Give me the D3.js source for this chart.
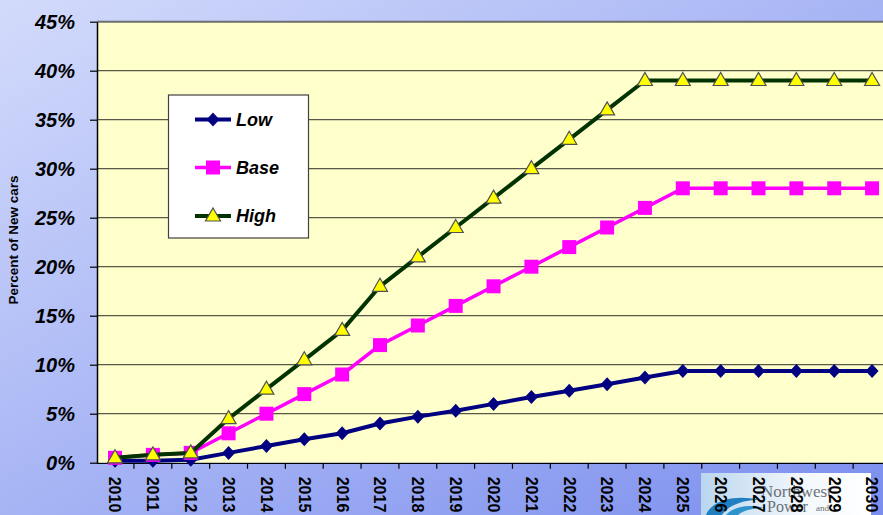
<!DOCTYPE html>
<html>
<head>
<meta charset="utf-8">
<script src="https://cdn.jsdelivr.net/npm/d3@7"></script>
<style>
  html, body { margin: 0; padding: 0; overflow: hidden; }
  svg { display: block; font-family: Arial, "Liberation Sans", sans-serif; }
</style>
</head>
<body>
<svg id="chart" width="883" height="515"></svg>
<script>
const years = ["2010","2011","2012","2013","2014","2015","2016","2017","2018","2019","2020",
               "2021","2022","2023","2024","2025","2026","2027","2028","2029","2030"];
const lowValues  = [0.2, 0.2, 0.3, 1.0, 1.7, 2.4, 3.0, 4.0, 4.7, 5.3, 6.0, 6.7, 7.35, 8.0, 8.7, 9.35, 9.35, 9.35, 9.35, 9.35, 9.35];
const baseValues = [0.5, 0.8, 1.0, 3.0, 5.0, 7.0, 9.0, 12.0, 14.0, 16.0, 18.0, 20.0, 22.0, 24.0, 26.0, 28.0, 28.0, 28.0, 28.0, 28.0, 28.0];
const highValues = [0.5, 0.8, 1.0, 4.5, 7.5, 10.5, 13.5, 18.0, 21.0, 24.0, 27.0, 30.0, 33.0, 36.0, 39.0, 39.0, 39.0, 39.0, 39.0, 39.0, 39.0];
const yTicks = [0, 5, 10, 15, 20, 25, 30, 35, 40, 45];
const seriesNames = ["Low", "Base", "High"];

const width = 883;
const height = 515;
const plot = { left: 97, right: 891, top: 21.7, bottom: 462.7 };

const svg = d3.select("#chart");
const defs = svg.append("defs");

const bg = defs.append("linearGradient")
  .attr("id", "bgGrad")
  .attr("x1", "0").attr("y1", "0").attr("x2", "1").attr("y2", "1");
bg.append("stop").attr("offset", "0%").attr("stop-color", "#d3dbfb");
bg.append("stop").attr("offset", "100%").attr("stop-color", "#7b8eee");

const logoGrad = defs.append("linearGradient")
  .attr("id", "logoGrad")
  .attr("x1", "0").attr("y1", "0").attr("x2", "1").attr("y2", "0");
logoGrad.append("stop").attr("offset", "0%").attr("stop-color", "#b9d6ee");
logoGrad.append("stop").attr("offset", "60%").attr("stop-color", "#f4f8fc");
logoGrad.append("stop").attr("offset", "100%").attr("stop-color", "#ffffff");

defs.append("clipPath").attr("id", "plotClip")
  .append("rect")
  .attr("x", plot.left).attr("y", 0)
  .attr("width", width - plot.left).attr("height", height);

svg.append("rect")
  .attr("width", width).attr("height", height)
  .attr("fill", "url(#bgGrad)");

const x = d3.scaleBand()
  .domain(years)
  .range([plot.left - 0.9, plot.right])
  .padding(0);

const y = d3.scaleLinear()
  .domain([0, 45])
  .range([plot.bottom, plot.top]);

// plot area
svg.append("rect")
  .attr("x", plot.left).attr("y", plot.top)
  .attr("width", width - plot.left).attr("height", plot.bottom - plot.top)
  .attr("fill", "#ffffcc");

// gridlines
svg.append("g")
  .selectAll("line")
  .data(yTicks.filter(function (d) { return d > 0; }))
  .enter()
  .append("line")
  .attr("x1", plot.left).attr("x2", width)
  .attr("y1", function (d) { return y(d); })
  .attr("y2", function (d) { return y(d); })
  .attr("stroke", function (d) { return d === 45 ? "#6e6e6e" : "#585848"; })
  .attr("stroke-width", function (d) { return d === 45 ? 2 : 1.2; });

// logo at the bottom right
const logo = svg.append("g");
logo.append("rect")
  .attr("x", 701).attr("y", 473)
  .attr("width", 170).attr("height", 42)
  .attr("fill", "url(#logoGrad)");
logo.append("path")
  .attr("d", "M706,515 C712,500 735,494 760,500 C745,499 728,505 722,515 Z")
  .attr("fill", "#1f7fc0");
logo.append("path")
  .attr("d", "M726,515 C734,506 750,504 764,508 C752,508 742,511 738,515 Z")
  .attr("fill", "#2d94cf");
logo.append("text")
  .attr("x", 761).attr("y", 497)
  .attr("font-family", "'Liberation Serif', 'DejaVu Serif', serif")
  .attr("font-size", 17)
  .attr("fill", "#6a7078")
  .text("Northwest");
logo.append("text")
  .attr("x", 767).attr("y", 512)
  .attr("font-family", "'Liberation Serif', 'DejaVu Serif', serif")
  .attr("font-size", 16)
  .attr("fill", "#6a7078")
  .text("Power");
logo.append("text")
  .attr("x", 816).attr("y", 511)
  .attr("font-family", "'Liberation Serif', 'DejaVu Serif', serif")
  .attr("font-size", 9)
  .attr("fill", "#6a7078")
  .text("and");

// y axis
const yAxis = svg.append("g")
  .attr("transform", `translate(${plot.left},0)`)
  .call(d3.axisLeft(y)
    .tickValues(yTicks)
    .tickSize(7)
    .tickSizeOuter(0)
    .tickPadding(15)
    .tickFormat(function (d) { return d + "%"; }));
yAxis.select(".domain").attr("stroke", "#000").attr("stroke-width", 1.5);
yAxis.selectAll(".tick line").attr("stroke", "#000").attr("stroke-width", 1.2);
yAxis.selectAll(".tick text")
  .attr("font-size", 20)
  .attr("font-weight", "bold")
  .attr("font-style", "italic")
  .attr("fill", "#000");

// x axis
const xAxis = svg.append("g")
  .attr("transform", `translate(0,${plot.bottom})`)
  .attr("clip-path", "url(#plotClip)")
  .call(d3.axisBottom(x).tickSize(0).tickSizeOuter(0));
xAxis.select(".domain").attr("stroke", "#000").attr("stroke-width", 1.5);
xAxis.selectAll(".tick text")
  .attr("font-size", 16)
  .attr("font-weight", "bold")
  .attr("fill", "#000")
  .attr("text-anchor", "start")
  .attr("transform", "translate(0,14) rotate(90)")
  .attr("x", 0)
  .attr("y", 0)
  .attr("dy", "0.35em");

// boundary tick marks between categories
xAxis.append("g")
  .selectAll("line")
  .data(years)
  .enter()
  .append("line")
  .attr("x1", function (d) { return x(d); })
  .attr("x2", function (d) { return x(d); })
  .attr("y1", 0).attr("y2", 6)
  .attr("stroke", "#000")
  .attr("stroke-width", 1.2);

// y axis title
svg.append("text")
  .attr("transform", "translate(18,240) rotate(-90)")
  .attr("text-anchor", "middle")
  .attr("font-size", 13.5)
  .attr("font-weight", "bold")
  .attr("fill", "#000")
  .text("Percent of New cars");

// series
const series = [
  { name: seriesNames[0], values: lowValues,  line: "#000080", width: 4,   marker: "diamond" },
  { name: seriesNames[1], values: baseValues, line: "#ff00ff", width: 3.5, marker: "square" },
  { name: seriesNames[2], values: highValues, line: "#003300", width: 4,   marker: "triangle" }
];

function markerPath(type) {
  if (type === "diamond") return "M0,-7L6.5,0L0,7L-6.5,0Z";
  if (type === "square") return "M-7,-7H7V7H-7Z";
  return "M0,-8L7.5,5L-7.5,5Z";
}

function drawMarker(g, type) {
  g.append("path")
    .attr("d", markerPath(type))
    .attr("fill", type === "diamond" ? "#000080" : type === "square" ? "#ff00ff" : "#ffff00")
    .attr("stroke", type === "triangle" ? "#505050" : "none")
    .attr("stroke-width", 1.2);
}

const cx = function (i) { return x(years[i]) + x.bandwidth() / 2; };

const seriesLayer = svg.append("g").attr("clip-path", "url(#plotClip)");

const line = d3.line()
  .x(function (d, i) { return cx(i); })
  .y(function (d) { return y(d); });

series.forEach(function (s) {
  const g = seriesLayer.append("g");
  g.append("path")
    .datum(s.values)
    .attr("d", line)
    .attr("fill", "none")
    .attr("stroke", s.line)
    .attr("stroke-width", s.width)
    .attr("stroke-linejoin", "round");

  g.selectAll(".pt")
    .data(s.values)
    .enter()
    .append("g")
    .attr("class", "pt")
    .attr("transform", function (d, i) { return `translate(${cx(i)},${y(d)})`; })
    .each(function () { drawMarker(d3.select(this), s.marker); });
});

// legend
const legend = svg.append("g");
legend.append("rect")
  .attr("x", 168.5).attr("y", 95)
  .attr("width", 140).attr("height", 143)
  .attr("fill", "#fff")
  .attr("stroke", "#404040")
  .attr("stroke-width", 1.2);

const legendY = [119.5, 167.5, 216];
series.forEach(function (s, i) {
  const g = legend.append("g").attr("transform", `translate(0,${legendY[i]})`);
  g.append("line")
    .attr("x1", 195).attr("x2", 231)
    .attr("y1", 0).attr("y2", 0)
    .attr("stroke", s.line)
    .attr("stroke-width", s.width);
  drawMarker(g.append("g").attr("transform", "translate(213,0)"), s.marker);
  g.append("text")
    .attr("x", 236).attr("y", 0)
    .attr("dy", "0.36em")
    .attr("font-size", 18)
    .attr("font-weight", "bold")
    .attr("font-style", "italic")
    .attr("fill", "#000")
    .text(s.name);
});
</script>
</body>
</html>
